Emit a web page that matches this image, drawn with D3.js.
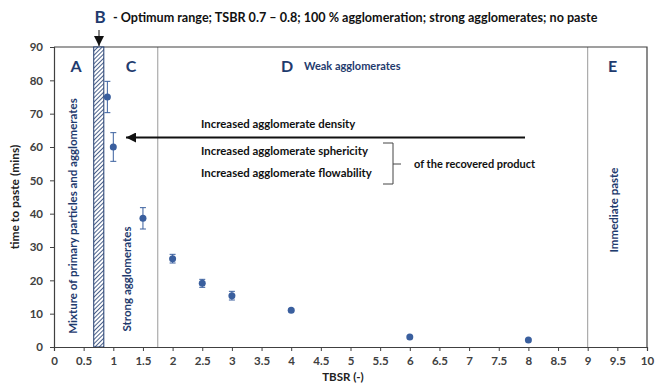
<!DOCTYPE html>
<html>
<head>
<meta charset="utf-8">
<script src="https://cdn.jsdelivr.net/npm/d3@7"></script>
<style>
  html, body { margin: 0; padding: 0; background: #fff; }
  svg { display: block; font-family: Lato, "Open Sans", sans-serif; }
</style>
</head>
<body>
<svg id="chart" width="655" height="385"></svg>
<script>
// TBSR vs time to paste, with standard deviation
const tbsr      = [0.9, 1, 1.5, 2, 2.5, 3, 4, 6, 8];
const pasteTime = [75, 60, 38.6, 26.5, 19.1, 15.4, 11, 3, 2.1];
const pasteErr  = [4.7, 4.3, 3.2, 1.3, 1.2, 1.3, 0.4, 0, 0];

const xTicks = [0, 0.5, 1, 1.5, 2, 2.5, 3, 3.5, 4, 4.5, 5, 5.5, 6, 6.5, 7, 7.5, 8, 8.5, 9, 9.5, 10];
const yTicks = [0, 10, 20, 30, 40, 50, 60, 70, 80, 90];

// region boundaries on the TBSR axis
const optimumBand = [0.67, 0.84];
const regionLines = [1.75, 9];

const navy = "#1f3b6e";
const markBlue = "#3a5f9e";
const axisGrey = "#404040";

const svg = d3.select("#chart");
const m = { left: 54, right: 8, top: 47, bottom: 38 };
const W = 655, H = 385;

const x = d3.scaleLinear().domain([0, 10]).range([m.left, W - m.right]);
const y = d3.scaleLinear().domain([0, 90]).range([H - m.bottom, m.top]);

// hatch pattern for the optimum band
const defs = svg.append("defs");
const pat = defs.append("pattern")
  .attr("id", "hatch").attr("patternUnits", "userSpaceOnUse")
  .attr("width", 3).attr("height", 3)
  .attr("patternTransform", "rotate(45)");
pat.append("rect").attr("width", 3).attr("height", 3).attr("fill", "#fff");
pat.append("line").attr("x1", 0).attr("y1", 0).attr("x2", 0).attr("y2", 3)
  .attr("stroke", navy).attr("stroke-width", 1.6);

// region divider lines
svg.selectAll("line.region").data(regionLines).join("line")
  .attr("class", "region")
  .attr("x1", d => x(d)).attr("x2", d => x(d))
  .attr("y1", y(90)).attr("y2", y(0))
  .attr("stroke", "#9a9a9a").attr("stroke-width", 1);

// plot frame (top and right)
svg.append("path")
  .attr("d", `M${x(0)},${y(90)}H${x(10)}V${y(0)}`)
  .attr("fill", "none").attr("stroke", axisGrey).attr("stroke-width", 1.2);

// optimum band
svg.append("rect")
  .attr("x", x(optimumBand[0])).attr("y", y(90))
  .attr("width", x(optimumBand[1]) - x(optimumBand[0]))
  .attr("height", y(0) - y(90))
  .attr("fill", "url(#hatch)").attr("stroke", navy).attr("stroke-width", 1);

// axes
const xAxis = svg.append("g")
  .attr("transform", `translate(0,${y(0)})`)
  .call(d3.axisBottom(x).tickValues(xTicks).tickSize(4).tickPadding(6).tickFormat(d3.format("")));
const yAxis = svg.append("g")
  .attr("transform", `translate(${x(0)},0)`)
  .call(d3.axisLeft(y).tickValues(yTicks).tickSize(4).tickPadding(7));
[xAxis, yAxis].forEach(g => {
  g.select(".domain").attr("stroke", axisGrey).attr("stroke-width", 1.2);
  g.selectAll(".tick line").attr("stroke", axisGrey);
  g.selectAll(".tick text").attr("fill", "#404040")
    .style("font-family", "Lato, sans-serif").style("font-size", "11.5px").style("font-weight", "700");
});

// axis titles
svg.append("text").attr("x", 343).attr("y", 381).attr("text-anchor", "middle")
  .attr("fill", "#222").style("font-size", "11.5px").style("font-weight", "700")
  .text("TBSR (-)");
svg.append("text")
  .attr("transform", `translate(19,${(y(0) + y(90)) / 2}) rotate(-90)`)
  .attr("text-anchor", "middle").attr("fill", "#222")
  .style("font-size", "12px").style("font-weight", "700")
  .text("time to paste (mins)");

// error bars
const pts = tbsr.map((t, i) => ({ t, v: pasteTime[i], e: pasteErr[i] }));
const errG = svg.append("g").attr("stroke", markBlue).attr("stroke-width", 1);
pts.filter(d => d.e > 0).forEach(d => {
  errG.append("line").attr("x1", x(d.t)).attr("x2", x(d.t))
    .attr("y1", y(d.v + d.e)).attr("y2", y(d.v - d.e));
  [d.v + d.e, d.v - d.e].forEach(v => {
    errG.append("line").attr("x1", x(d.t) - 3).attr("x2", x(d.t) + 3)
      .attr("y1", y(v)).attr("y2", y(v));
  });
});

// markers
svg.selectAll("circle.pt").data(pts).join("circle")
  .attr("class", "pt")
  .attr("cx", d => x(d.t)).attr("cy", d => y(d.v)).attr("r", 3.5)
  .attr("fill", markBlue);

// region letters
const letters = [["A", 0.37], ["C", 1.3], ["D", 3.93], ["E", 9.42]];
svg.selectAll("text.letter").data(letters).join("text")
  .attr("class", "letter")
  .attr("x", d => x(d[1])).attr("y", 72).attr("text-anchor", "middle")
  .attr("fill", navy).style("font-size", "16px").style("font-weight", "700")
  .text(d => d[0]);
svg.append("text").attr("x", 304).attr("y", 70)
  .attr("fill", navy).style("font-size", "11px").style("font-weight", "700")
  .text("Weak agglomerates");

// rotated region descriptions
const vLabels = [
  ["Mixture of primary particles and agglomerates", 0.32, 216],
  ["Strong agglomerates", 1.23, 279],
  ["Immediate paste", 9.45, 210]
];
svg.selectAll("text.vlab").data(vLabels).join("text")
  .attr("class", "vlab")
  .attr("transform", d => `translate(${x(d[1]) + 4},${d[2]}) rotate(-90)`)
  .attr("text-anchor", "middle").attr("fill", navy)
  .style("font-size", "11.5px").style("font-weight", "700")
  .text(d => d[0]);

// title line with B marker
svg.append("text").attr("x", 100).attr("y", 23).attr("text-anchor", "middle")
  .attr("fill", navy).style("font-size", "17px").style("font-weight", "700").text("B");
svg.append("text").attr("x", 113).attr("y", 22)
  .attr("fill", "#111").style("font-size", "12.6px").style("font-weight", "700")
  .text("- Optimum range; TSBR 0.7 \u2013 0.8; 100 % agglomeration; strong agglomerates; no paste");

defs.append("marker").attr("id", "tri").attr("viewBox", "0 0 10 10")
  .attr("refX", 10).attr("refY", 5).attr("markerWidth", 10).attr("markerHeight", 10)
  .attr("markerUnits", "userSpaceOnUse").attr("orient", "auto")
  .append("path").attr("d", "M0,0L10,5L0,10Z").attr("fill", "#111");

svg.append("line").attr("x1", 99).attr("x2", 99).attr("y1", 30).attr("y2", 46)
  .attr("stroke", "#111").attr("stroke-width", 1).attr("marker-end", "url(#tri)");

// arrow towards low TBSR
svg.append("line").attr("x1", 525).attr("x2", 126).attr("y1", 137.5).attr("y2", 137.5)
  .attr("stroke", "#111").attr("stroke-width", 2.2).attr("marker-end", "url(#tri)");

// annotation texts
const notes = [
  ["Increased agglomerate density", 128],
  ["Increased agglomerate sphericity", 155],
  ["Increased agglomerate flowability", 177]
];
svg.selectAll("text.note").data(notes).join("text")
  .attr("class", "note")
  .attr("x", 201).attr("y", d => d[1])
  .attr("fill", "#111").style("font-size", "11.4px").style("font-weight", "700")
  .text(d => d[0]);

// bracket
svg.append("path")
  .attr("d", "M383,143H393V184H383M393,164H401")
  .attr("fill", "none").attr("stroke", "#444").attr("stroke-width", 1);
svg.append("text").attr("x", 414).attr("y", 168)
  .attr("fill", "#111").style("font-size", "11px").style("font-weight", "700")
  .text("of the recovered product");
</script>
</body>
</html>
